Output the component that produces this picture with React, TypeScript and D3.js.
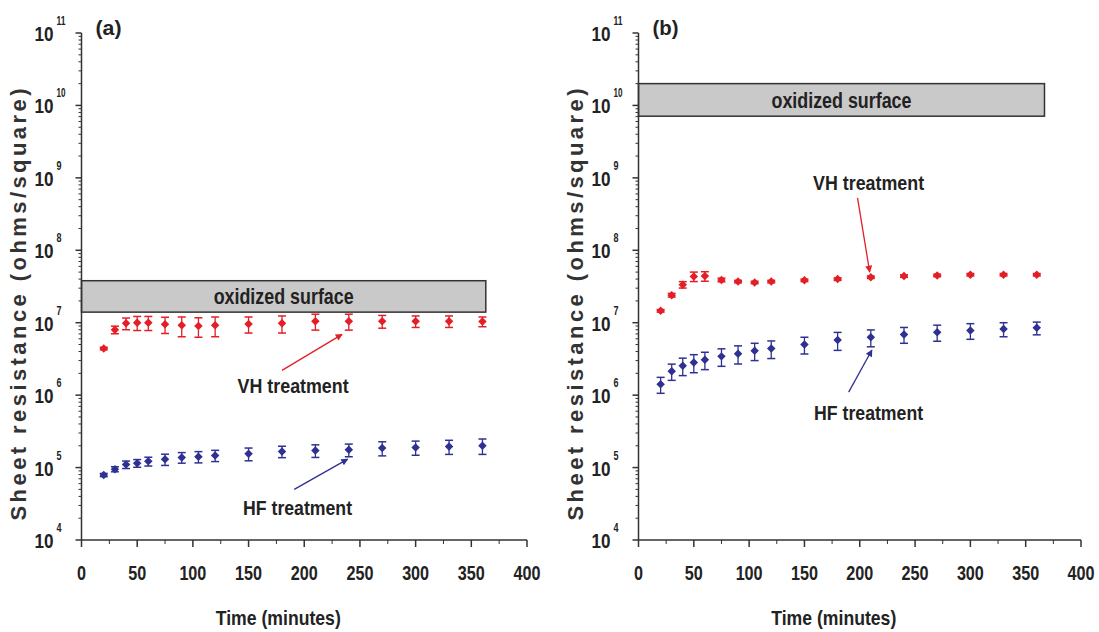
import * as d3 from "d3";

// sampling times (minutes), shared by both panels
const times = [20, 30, 40, 50, 60, 75, 90, 105, 120, 150, 180, 210, 240, 270, 300, 330, 360];

// panel (a)
const vhA = [4.4e6, 8.0e6, 9.8e6, 1.0e7, 1.0e7, 9.5e6, 9.2e6, 9.0e6, 9.2e6, 9.6e6, 9.8e6, 1.05e7, 1.05e7, 1.05e7, 1.05e7, 1.05e7, 1.04e7];
const vhAErr = [1.8e5, 9.6e5, 1.8e6, 2.2e6, 2.2e6, 2.4e6, 2.8e6, 2.7e6, 2.8e6, 2.4e6, 2.6e6, 2.6e6, 2.6e6, 2.1e6, 1.9e6, 1.9e6, 1.6e6];
const hfA = [7.9e4, 9.5e4, 1.1e5, 1.15e5, 1.22e5, 1.3e5, 1.38e5, 1.41e5, 1.47e5, 1.55e5, 1.67e5, 1.72e5, 1.76e5, 1.86e5, 1.9e5, 1.95e5, 2.0e5];
const hfAErr = [4e3, 7.6e3, 1.3e4, 1.4e4, 1.7e4, 2.3e4, 2.3e4, 2.5e4, 2.6e4, 3.1e4, 3.0e4, 3.4e4, 3.5e4, 4.1e4, 4.2e4, 4.3e4, 4.8e4];

// panel (b)
const vhB = [1.46e7, 2.4e7, 3.35e7, 4.35e7, 4.4e7, 3.9e7, 3.7e7, 3.6e7, 3.7e7, 3.85e7, 4.0e7, 4.25e7, 4.4e7, 4.5e7, 4.6e7, 4.6e7, 4.6e7];
const vhBErr = [6e5, 1.4e6, 3.4e6, 6.5e6, 6.6e6, 2.3e6, 1.5e6, 1.4e6, 1.5e6, 1.5e6, 1.6e6, 1.7e6, 1.8e6, 1.8e6, 1.8e6, 1.8e6, 1.8e6];
const hfB = [1.41e6, 2.14e6, 2.55e6, 2.83e6, 3.08e6, 3.43e6, 3.74e6, 4.1e6, 4.4e6, 5.0e6, 5.75e6, 6.3e6, 6.9e6, 7.4e6, 7.8e6, 8.2e6, 8.5e6];
const hfBErr = [3.5e5, 5.4e5, 6.9e5, 7.9e5, 8.3e5, 9.3e5, 1.05e6, 1.1e6, 1.2e6, 1.3e6, 1.6e6, 1.65e6, 1.7e6, 1.85e6, 1.9e6, 1.8e6, 1.7e6];

// oxidized surface band: [time end, low, high]
const oxideA = [363, 1.4e7, 3.8e7];
const oxideB = [367, 7.1e9, 2.0e10];

// annotations: [text time, text value, arrow tail time, tail value, head time, head value]
const vhNoteA = [190, 1.07e6, 180, 2.2e6, 234, 6.9e6];
const hfNoteA = [194, 2.2e4, 191, 5.0e4, 239, 1.31e5];
const vhNoteB = [208, 6.8e8, 198, 5.3e8, 209, 5.0e7];
const hfNoteB = [208, 4.5e5, 190, 1.1e6, 211, 4.2e6];

const xTicks = [0, 50, 100, 150, 200, 250, 300, 350, 400];
const exponents = [4, 5, 6, 7, 8, 9, 10, 11];

const RED = "#e41e26";
const BLUE = "#2e3192";
const FONT = "'Liberation Sans', Arial, sans-serif";

// narrow-looking text: squeeze glyphs into a given width (no narrow font installed)
function NText(props: any) {
  const { w, size = 21, weight = "bold", children, ...rest } = props;
  return (
    <text {...rest} fontFamily={FONT} fontSize={size} fontWeight={weight} fill="#222" textLength={w} lengthAdjust="spacingAndGlyphs">
      {children}
    </text>
  );
}

function Panel(props: any) {
  const { x0, x1, label, vh, vhErr, hf, hfErr, oxide, vhNote, hfNote, id } = props;
  const top = 33, bottom = 540;
  const x = d3.scaleLinear([0, 400], [x0, x1]);
  const y = d3.scaleLog([1e4, 1e11], [bottom, top]);
  const diamond = d3.symbol(d3.symbolDiamond2, 46)();

  const minor: number[] = [];
  for (let e = 4; e < 11; e++) for (let k = 2; k <= 9; k++) minor.push(k * Math.pow(10, e));
  const xMinor = d3.range(25, 400, 50);

  function series(vals: number[], errs: number[], color: string) {
    return times.map((t, i) => {
      const cx = x(t);
      const yt = y(vals[i] + errs[i]);
      const yb = y(Math.max(vals[i] - errs[i], 1e4));
      return (
        <g key={i} stroke={color} fill={color}>
          <line x1={cx} x2={cx} y1={yt} y2={yb} strokeWidth={1.3} />
          <line x1={cx - 4} x2={cx + 4} y1={yt} y2={yt} strokeWidth={1.5} />
          <line x1={cx - 4} x2={cx + 4} y1={yb} y2={yb} strokeWidth={1.5} />
          <path d={diamond!} transform={`translate(${cx},${y(vals[i])})`} stroke="none" />
        </g>
      );
    });
  }

  function note(n: number[], txt: string, w: number, color: string, marker: string) {
    return (
      <g>
        <NText x={x(n[0])} y={y(n[1])} textAnchor="middle" w={w} size={21}>{txt}</NText>
        <line x1={x(n[2])} y1={y(n[3])} x2={x(n[4])} y2={y(n[5])} stroke={color} strokeWidth={1.3} markerEnd={`url(#${marker})`} />
      </g>
    );
  }

  const yMid = (top + bottom) / 2;
  const titleX = x0 - 56;

  return (
    <g>
      <defs>
        <marker id={`arrR${id}`} viewBox="0 0 10 10" refX="9" refY="5" markerWidth="9" markerHeight="7" markerUnits="userSpaceOnUse" orient="auto">
          <path d="M0,0 L10,5 L0,10 z" fill={RED} />
        </marker>
        <marker id={`arrB${id}`} viewBox="0 0 10 10" refX="9" refY="5" markerWidth="9" markerHeight="7" markerUnits="userSpaceOnUse" orient="auto">
          <path d="M0,0 L10,5 L0,10 z" fill={BLUE} />
        </marker>
      </defs>

      {/* oxidized surface band */}
      <rect x={x(0)} y={y(oxide[2])} width={x(oxide[0]) - x(0)} height={y(oxide[1]) - y(oxide[2])} fill="#c9c9c9" stroke="#333" strokeWidth={1.5} />
      <NText x={(x(0) + x(oxide[0])) / 2} y={(y(oxide[1]) + y(oxide[2])) / 2 + 8} textAnchor="middle" w={140} size={22}>oxidized surface</NText>

      {/* y axis */}
      <line x1={x0} x2={x0} y1={top} y2={bottom} stroke="#333" strokeWidth={1.5} />
      {minor.map((v, i) => (
        <line key={"m" + i} x1={x0 - 3} x2={x0} y1={y(v)} y2={y(v)} stroke="#333" strokeWidth={1} />
      ))}
      {exponents.map((e) => (
        <g key={"e" + e}>
          <line x1={x0 - 6} x2={x0} y1={y(Math.pow(10, e))} y2={y(Math.pow(10, e))} stroke="#333" strokeWidth={1.5} />
          <NText x={x0 - 28} y={y(Math.pow(10, e)) + 8} textAnchor="end" w={19} size={21}>10</NText>
          <NText x={x0 - 25} y={y(Math.pow(10, e)) - 8} textAnchor="start" w={e > 9 ? 9 : 5} size={12}>{e}</NText>
        </g>
      ))}
      <text transform={`translate(${titleX},${yMid + 18}) rotate(-90)`} textAnchor="middle" fontFamily={FONT} fontSize={22} fontWeight="bold" fill="#333" textLength={432} lengthAdjust="spacing">Sheet resistance (ohms/square)</text>

      {/* x axis */}
      <line x1={x0} x2={x1} y1={bottom} y2={bottom} stroke="#333" strokeWidth={1.5} />
      {xTicks.map((t) => (
        <g key={"x" + t}>
          <line x1={x(t)} x2={x(t)} y1={bottom} y2={bottom + 7} stroke="#333" strokeWidth={1.5} />
          <NText x={x(t)} y={bottom + 40} textAnchor="middle" w={String(t).length * 9} size={21}>{t}</NText>
        </g>
      ))}
      {xMinor.map((t) => (
        <line key={"xm" + t} x1={x(t)} x2={x(t)} y1={bottom} y2={bottom + 4} stroke="#333" strokeWidth={1} />
      ))}
      <NText x={x(200) - 26} y={bottom + 85} textAnchor="middle" w={125} size={21}>Time (minutes)</NText>

      <NText x={x0 + 14} y={35} w={26} size={21}>{label}</NText>

      {series(vh, vhErr, RED)}
      {series(hf, hfErr, BLUE)}
      {note(vhNote, "VH treatment", 111, RED, `arrR${id}`)}
      {note(hfNote, "HF treatment", 109, BLUE, `arrB${id}`)}
    </g>
  );
}

export default function App() {
  return (
    <svg width={1099} height={632} style={{ position: "absolute", left: 0, top: 0, background: "#fff" }}>
      <Panel id="a" x0={81.5} x1={527} label="(a)" vh={vhA} vhErr={vhAErr} hf={hfA} hfErr={hfAErr} oxide={oxideA} vhNote={vhNoteA} hfNote={hfNoteA} />
      <Panel id="b" x0={638.5} x1={1081} label="(b)" vh={vhB} vhErr={vhBErr} hf={hfB} hfErr={hfBErr} oxide={oxideB} vhNote={vhNoteB} hfNote={hfNoteB} />
    </svg>
  );
}
